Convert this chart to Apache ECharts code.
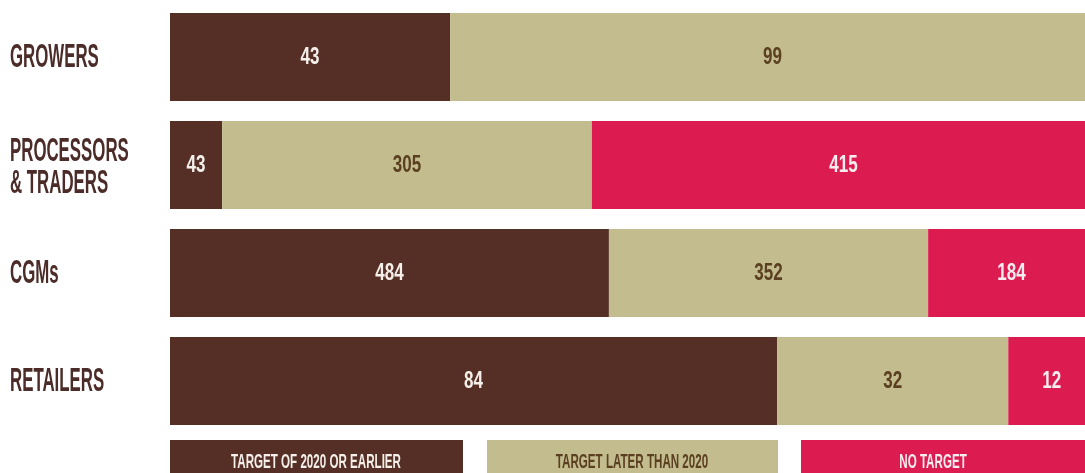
<!DOCTYPE html>
<html>
<head>
<meta charset="utf-8">
<style>
  html, body { margin: 0; padding: 0; background: #ffffff; }
  #chart { width: 1085px; height: 473px; }
</style>
<script src="https://cdn.jsdelivr.net/npm/echarts@6/dist/echarts.min.js"></script>
</head>
<body>
<div id="chart"></div>
<script>
// Companies by deforestation-target date, per supply-chain segment
const categories = ['GROWERS', 'PROCESSORS\n& TRADERS', 'CGMs', 'RETAILERS'];
const seriesNames = ['TARGET OF 2020 OR EARLIER', 'TARGET LATER THAN 2020', 'NO TARGET'];
const early = [43, 43, 484, 84];
const later = [99, 305, 352, 32];
const none = [null, 415, 184, 12];

const colors = ['#552e25', '#c3bc8e', '#dc1c50'];
const labelColors = ['#f4efe9', '#5a3f20', '#f8ecef'];
const catColor = '#4b2c28';
const FONT = '"Liberation Sans", Arial, sans-serif';
const NARROW = 0.51;   // condensed display face
const DIGIT_NARROW = 0.74;

const raw = [early, later, none];
const totals = categories.map((_, i) => raw.reduce((s, arr) => s + (arr[i] || 0), 0));
const shares = raw.map(arr => arr.map((v, i) => (v == null ? null : v / totals[i] * 100)));

const chart = echarts.init(document.getElementById('chart'), null, { renderer: 'canvas' });

const series = shares.map((arr, si) => ({
  name: seriesNames[si],
  type: 'bar',
  stack: 'share',
  barWidth: 88,
  clip: false,
  itemStyle: { color: colors[si] },
  label: { show: false },
  data: arr
}));

// the plotted band runs slightly past the right edge of the canvas
const plotWidth = 925;
const visibleWidth = 1085 - 170;

chart.setOption({
  animation: false,
  backgroundColor: '#ffffff',
  grid: { left: 170, top: 3, width: visibleWidth, height: 432, containLabel: false },
  xAxis: { type: 'value', min: 0, max: 100 * visibleWidth / plotWidth, show: false },
  yAxis: {
    type: 'category',
    inverse: true,
    data: categories,
    axisLine: { show: false },
    axisTick: { show: false },
    axisLabel: { show: false }
  },
  series: series
});

// condensed text: category names, segment values and legend captions
const graphic = [];

categories.forEach((name, i) => {
  const yc = chart.convertToPixel({ yAxisIndex: 0 }, i);
  const multi = name.indexOf('\n') >= 0;
  graphic.push({
    type: 'text', silent: true, z: 20, x: 10, y: yc + (multi ? 3 : 1), scaleX: NARROW,
    style: {
      text: name, fill: catColor, font: 'bold 33px ' + FONT,
      lineHeight: 32, align: 'left', verticalAlign: 'middle'
    }
  });
});

categories.forEach((_, i) => {
  let cum = 0;
  raw.forEach((arr, si) => {
    const v = arr[i];
    if (v == null) return;
    const share = shares[si][i];
    const mid = chart.convertToPixel({ gridIndex: 0 }, [cum + share / 2, i]);
    cum += share;
    graphic.push({
      type: 'text', silent: true, z: 20, x: mid[0], y: mid[1] + 1, scaleX: DIGIT_NARROW,
      style: {
        text: String(v), fill: labelColors[si], font: 'bold 23px ' + FONT,
        align: 'center', verticalAlign: 'middle'
      }
    });
  });
});

const legendBoxes = [
  { x: 170, w: 293 },
  { x: 487, w: 291 },
  { x: 801, w: 300 }
];
const captionCenters = [316, 632, 933];
legendBoxes.forEach((b, i) => {
  graphic.push({
    type: 'rect', silent: true, z: 10, x: b.x, y: 440,
    shape: { width: b.w, height: 40 },
    style: { fill: colors[i] }
  });
  graphic.push({
    type: 'text', silent: true, z: 20, x: captionCenters[i], y: 462, scaleX: 0.58,
    style: {
      text: seriesNames[i], fill: labelColors[i], font: 'bold 20px ' + FONT,
      align: 'center', verticalAlign: 'middle'
    }
  });
});

chart.setOption({ graphic: graphic });
</script>
</body>
</html>
